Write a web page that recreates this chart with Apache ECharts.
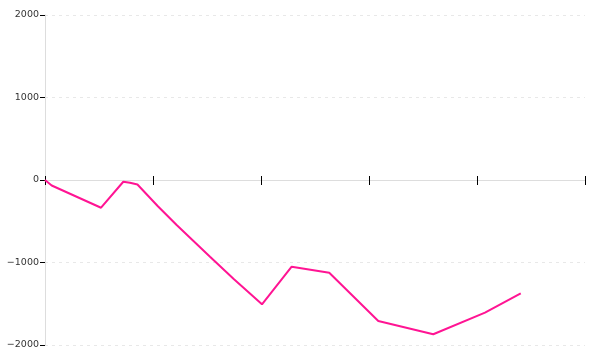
<!DOCTYPE html>
<html>
<head>
<meta charset="utf-8">
<script src="https://cdn.jsdelivr.net/npm/echarts@6/dist/echarts.min.js"></script>
<style>html,body{margin:0;padding:0;background:#fff}#c{width:600px;height:360px}</style>
</head>
<body>
<div id="c"></div>
<script>
var xValues = [0, 0.62, 5.19, 7.25, 7.87, 8.56, 10.43, 12.19, 15.28, 17.5, 20.09, 22.84, 26.32, 30.86, 35.95, 40.74, 44.05];
var yValues = [0, -67, -336, -21, -33, -55, -315, -545, -930, -1204, -1507, -1051, -1124, -1709, -1870, -1608, -1374];
var yTicks = [-2000, -1000, 0, 1000, 2000];
var xTicks = [0, 10, 20, 30, 40, 50];

var points = xValues.map(function (x, i) { return [x, yValues[i]]; });
var chart = echarts.init(document.getElementById('c'), null, { renderer: 'canvas' });
function fmtY(v) { return v < 0 ? '\u2212' + String(-v) : String(v); }
var yMin = yTicks[0], yMax = yTicks[yTicks.length - 1];
var xMin = xTicks[0], xMax = xTicks[xTicks.length - 1];
chart.setOption({
  animation: false,
  grid: { left: 45, right: 15, top: 15, bottom: 15, containLabel: false },
  xAxis: [{
    type: 'value', min: xMin, max: xMax, interval: 10, position: 'bottom',
    axisLine: { onZero: true, lineStyle: { color: '#ddd', width: 1 } },
    axisTick: { show: true, inside: false, length: 5, lineStyle: { color: '#000', width: 1 } },
    axisLabel: { show: false },
    splitLine: { show: false }
  }, {
    type: 'value', min: xMin, max: xMax, interval: 10, position: 'top', offset: -165,
    axisLine: { show: false, onZero: false },
    axisTick: { show: true, inside: false, length: 4, lineStyle: { color: '#000', width: 1 } },
    axisLabel: { show: false },
    splitLine: { show: false }
  }],
  yAxis: [{
    type: 'value', min: yMin, max: yMax, interval: 1000,
    axisLine: { show: true, onZero: false, lineStyle: { color: '#ddd', width: 1 } },
    axisTick: { show: true, length: 5, lineStyle: { color: '#000', width: 1 } },
    axisLabel: { margin: 6, color: '#333', fontSize: 9.5, fontFamily: 'DejaVu Sans', formatter: fmtY },
    splitLine: { show: true, lineStyle: { color: '#e8e8e8', type: [3, 4], width: 1 } }
  }],
  series: [{
    type: 'line', data: points, xAxisIndex: 0, yAxisIndex: 0,
    showSymbol: false, symbol: 'none',
    lineStyle: { color: '#ff1493', width: 2 },
    itemStyle: { color: '#ff1493' }
  }]
});
</script>
</body>
</html>
